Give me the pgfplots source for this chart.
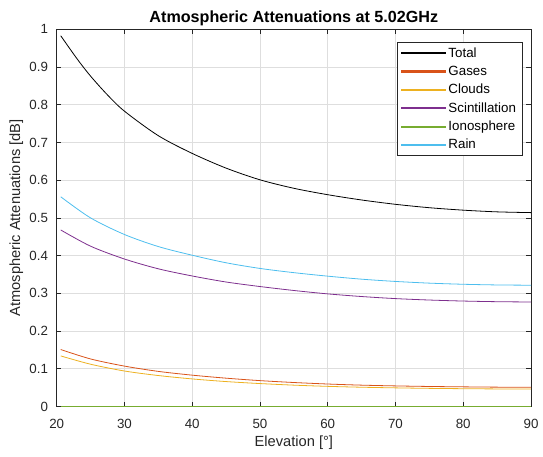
\documentclass[border=0pt]{standalone}
\usepackage{pgfplots}
\pgfplotsset{compat=1.18}
\usepackage{fontspec}
\setmainfont{Liberation Sans}
\definecolor{mTotal}{rgb}{0,0,0}
\definecolor{mGas}{rgb}{0.850,0.325,0.098}
\definecolor{mCloud}{rgb}{0.929,0.694,0.125}
\definecolor{mScint}{rgb}{0.494,0.184,0.556}
\definecolor{mIono}{rgb}{0.466,0.674,0.188}
\definecolor{mRain}{rgb}{0.301,0.745,0.933}
\definecolor{axgray}{rgb}{0.15,0.15,0.15}
\begin{document}
\begin{tikzpicture}
\begin{axis}[
  scale only axis,
  width=355.7pt, height=282.8pt,
  xmin=20, xmax=90, ymin=0, ymax=1,
  xtick={20,30,...,90},
  ytick={0,0.1,...,1},
  yticklabels={0,0.1,0.2,0.3,0.4,0.5,0.6,0.7,0.8,0.9,1},
  /pgf/number format/assume math mode=true,
  tick label style={font=\fontsize{10}{12}\selectfont, text=axgray},
  xticklabel style={yshift=-6pt},
  yticklabel style={xshift=-3pt},
  grid=major,
  major grid style={color=black!13, line width=0.4pt},
  axis line style={color=axgray, line width=0.5pt},
  tick style={color=axgray, line width=0.5pt},
  tick align=inside,
  major tick length=3.5pt,
  xtick pos=both, ytick pos=both,
  title={\textbf{Atmospheric Attenuations at 5.02GHz}},
  title style={font=\fontsize{12.1}{14}\selectfont, anchor=center, at={(axis description cs:0.5,1.0315)}, yshift=-7pt},
  xlabel={Elevation [°]},
  ylabel={Atmospheric Attenuations [dB]},
  label style={font=\fontsize{11}{13}\selectfont, text=axgray},
  xlabel style={anchor=center, at={(axis description cs:0.5,-0.097)}},
  ylabel style={anchor=center, at={(axis description cs:-0.0849,0.5)}},
  legend image code/.code={\fill[#1] (0pt,-0.5pt) rectangle (33pt,0.5pt);},
  legend cell align=left,
  legend style={at={(0.983,0.9655)}, anchor=north east,
    draw=axgray, line width=0.5pt, font=\fontsize{10}{12}\selectfont,
    inner xsep=3pt, inner ysep=1.5pt,
    row sep=1.1pt},
  every axis plot/.append style={line width=0.6pt, smooth, tension=0.5},
]
\addplot[color=mTotal] coordinates {
(20.6,0.983) (23,0.922) (25,0.876) (27.5,0.826) (30,0.783) (35,0.718) (40,0.671) (45,0.632) (50,0.601)
(55,0.5785) (60,0.5615) (65,0.5475) (70,0.536) (75,0.527) (80,0.5205) (85,0.516) (90,0.514)};
\addlegendentry{Total}
\addplot[color=mGas] coordinates {
(20.6,0.151) (25,0.126) (30,0.107) (35,0.093) (40,0.083) (45,0.075) (50,0.0685)
(55,0.0635) (60,0.0595) (65,0.0565) (70,0.0545) (75,0.053) (80,0.052) (85,0.0512) (90,0.051)};
\addlegendentry{Gases}
\addplot[color=mCloud] coordinates {
(20.6,0.134) (25,0.112) (30,0.094) (35,0.082) (40,0.073) (45,0.066) (50,0.0607)
(55,0.0565) (60,0.0533) (65,0.051) (70,0.0493) (75,0.048) (80,0.0471) (85,0.0465) (90,0.0463)};
\addlegendentry{Clouds}
\addplot[color=mScint] coordinates {
(20.6,0.468) (25,0.425) (30,0.391) (35,0.365) (40,0.346) (45,0.330) (50,0.318)
(55,0.3075) (60,0.2985) (65,0.2915) (70,0.286) (75,0.2822) (80,0.2795) (85,0.2778) (90,0.277)};
\addlegendentry{Scintillation}
\addplot[color=mIono] coordinates {
(20.6,0.001) (30,0.001) (40,0.001) (50,0.001) (60,0.001) (70,0.001) (80,0.001) (90,0.001)};
\addlegendentry{Ionosphere}
\addplot[color=mRain] coordinates {
(20.6,0.556) (25,0.500) (30,0.456) (35,0.424) (40,0.401) (45,0.381) (50,0.366)
(55,0.3548) (60,0.3455) (65,0.3375) (70,0.3315) (75,0.327) (80,0.324) (85,0.3222) (90,0.3215)};
\addlegendentry{Rain}
\end{axis}
\pgfresetboundingbox
\path ([shift={(-42.5pt,-37.2pt)}]current axis.south west) rectangle ([shift={(9pt,22pt)}]current axis.north east);
\end{tikzpicture}
\end{document}
